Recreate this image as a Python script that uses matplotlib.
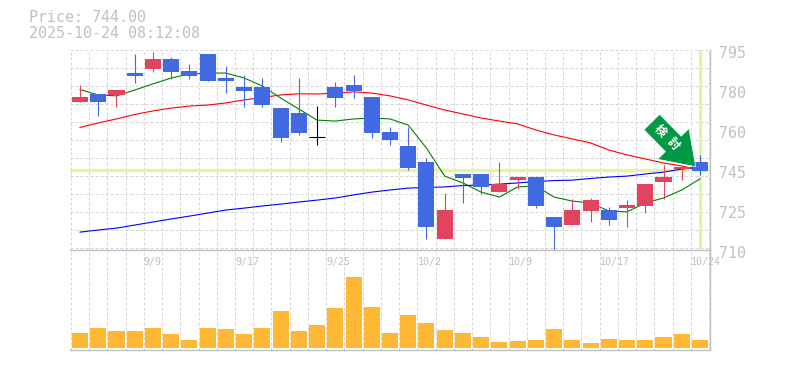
# Candlestick chart with moving averages and volume
import numpy as np
import matplotlib
matplotlib.use("Agg")
import matplotlib.pyplot as plt
from matplotlib.patches import FancyArrow
from matplotlib.transforms import IdentityTransform

# Price data
opens = [772.9, 776.3, 775.9, 785.2, 786.9, 791.2, 786.1, 793.3, 783.1, 779.3, 779.3, 770.3,
         768.2, 757.9, 779.3, 780.1, 775.0, 760.2, 754.2, 747.4, 714.7, 742.3, 742.3, 734.6,
         739.8, 741.0, 724.0, 720.6, 726.6, 727.0, 727.9, 728.7, 738.9, 744.4, 747.4]
closes = [775.0, 772.9, 778.0, 784.0, 791.2, 785.7, 784.0, 781.8, 781.8, 777.6, 771.6, 757.6,
          759.7, 757.9, 774.6, 777.6, 759.7, 756.8, 744.8, 719.8, 727.0, 740.6, 736.8, 738.0,
          741.0, 728.7, 719.8, 727.0, 731.3, 722.8, 729.1, 738.0, 741.0, 745.3, 743.6]
highs = [780.1, 776.3, 778.0, 793.3, 794.2, 792.0, 789.0, 793.3, 788.2, 784.4, 783.1, 770.3,
         783.1, 771.2, 781.4, 784.4, 775.0, 762.3, 762.3, 749.1, 734.2, 742.3, 742.3, 747.4,
         741.0, 741.0, 724.0, 731.7, 732.1, 728.3, 731.3, 738.0, 746.1, 745.3, 750.4]
lows = [772.9, 767.1, 770.8, 781.0, 785.7, 782.7, 782.7, 781.8, 776.7, 770.8, 770.8, 755.9,
        758.9, 754.6, 770.8, 774.6, 757.6, 754.6, 744.0, 714.7, 714.7, 730.0, 733.8, 734.6,
        735.9, 727.9, 710.0, 720.6, 721.9, 720.6, 719.8, 725.7, 731.7, 739.8, 741.9]

# Moving averages
ma_green = [778.2, 775.9, 775.5, 778.0, 780.6, 783.1, 784.8, 785.2, 785.2, 783.1, 779.7, 774.6,
            769.9, 765.2, 764.8, 765.7, 766.1, 765.7, 763.1, 753.3, 741.4, 738.5, 734.6, 732.5,
            736.8, 737.2, 732.5, 730.8, 730.0, 726.6, 726.2, 730.0, 732.1, 735.5, 740.2]
ma_red = [762.1, 764.0, 765.7, 767.6, 769.1, 770.3, 771.2, 771.6, 772.5, 773.8, 774.8, 775.9,
          776.4, 776.3, 776.7, 777.2, 776.7, 775.5, 773.8, 771.6, 769.5, 767.8, 766.1, 764.8,
          763.6, 761.0, 758.9, 757.2, 755.5, 752.5, 750.4, 748.7, 747.0, 745.7, 744.0]
ma_blue = [717.6, 718.5, 719.3, 720.6, 721.9, 723.2, 724.4, 725.7, 727.0, 727.8, 728.7, 729.5,
           730.4, 731.2, 732.1, 733.4, 734.6, 735.5, 736.3, 736.6, 736.8, 737.4, 737.6, 738.0,
           738.5, 739.1, 739.5, 739.7, 740.4, 741.0, 741.4, 742.3, 743.1, 744.4, 745.3]

# Volume
volumes = [15, 20, 17, 17, 20, 14, 8, 20, 19, 14, 20, 37, 17, 23, 40, 71, 41, 15,
           33, 25, 18, 15, 11, 6, 7, 8, 19, 8, 5, 9, 8, 8, 11, 14, 8]

# Labels
price_ticks = [795, 778, 761, 744, 727, 710]
price_labels = ["795", "780", "760", "745", "725", "710"]
date_pos = [3.5, 8.5, 13.5, 18.5, 23.5, 28.5, 33.5]
date_labels = ["9/9", "9/17", "9/25", "10/2", "10/9", "10/17", "10/24"]
last_price = 744.0

UP = "#e2445f"
DOWN = "#4169e1"
GREY = "#c0c0c0"
GRID = "#d6d6d6"
YELLOW = "#e2f5a4"
W, H = 785, 370

plt.rcParams["font.family"] = ["DejaVu Sans Mono", "Noto Sans CJK JP"]

fig = plt.figure(figsize=(W / 100, H / 100), dpi=100)
ax = fig.add_axes([70 / W, (H - 250) / H, 640 / W, 200 / H])
vol = fig.add_axes([70 / W, (H - 350) / H, 640 / W, 100 / H])
vol.patch.set_visible(False)

xs = np.arange(len(opens))
for a in (ax, vol):
    a.set_xlim(-0.55, 34.55)
    a.set_xticks(xs[:-1] + 0.5)
    a.set_xticks([-0.5, 34.5], minor=True)
    a.tick_params(which="both", length=0, labelbottom=False, labelleft=False)
    a.grid(True, axis="x", which="both", color=GRID, ls=(0, (3, 2)), lw=0.72)
    a.set_axisbelow(True)
    for side in ("top", "left"):
        a.spines[side].set_visible(False)
    for side in ("right", "bottom"):
        a.spines[side].set_color(GREY)
        a.spines[side].set_linewidth(1.0)

# Main panel
ax.set_ylim(710, 795)
ax.set_yticks(np.arange(795, 709, -7.65))
ax.grid(True, axis="y", color=GRID, ls=(0, (3, 2)), lw=0.72)

ax.axhline(last_price, color=YELLOW, lw=2.4, zorder=1.5)
ax.plot([34, 34], [711, 795], color=YELLOW, lw=2.4, zorder=1.5, solid_capstyle="butt")

# Averages sit under the candles
ax.plot(xs, ma_green, color="#008000", lw=0.8, zorder=2)
ax.plot(xs, ma_red, color="#ff0000", lw=0.8, zorder=2)
ax.plot(xs, ma_blue, color="#0000ff", lw=0.8, zorder=2)

for i in xs:
    o, c = opens[i], closes[i]
    col = "black" if o == c else (UP if c > o else DOWN)
    ax.plot([i, i], [lows[i], highs[i]], color=col, lw=0.8, zorder=3, solid_capstyle="butt")
    if o == c:
        ax.plot([i - 0.44, i + 0.44], [o, o], color=col, lw=0.8, zorder=3, solid_capstyle="butt")
    else:
        ax.bar(i, abs(c - o), bottom=min(o, c), width=0.88, color=col, lw=0, zorder=3)

# Price axis text
for t, s in zip(price_ticks, price_labels):
    ax.annotate(s, (1, t), xycoords=("axes fraction", "data"), xytext=(6.5, -2.2),
                textcoords="offset points", fontsize=10.8, color=GREY, va="center", ha="left",
                annotation_clip=False)

# Volume panel
vol.set_ylim(-2, 98)
vol.set_yticks([])
vol.bar(xs, volumes, width=0.88, color="#ffb833", lw=0, zorder=3)

for p, s in zip(date_pos, date_labels):
    vol.annotate(s, (p, 1), xycoords=("data", "axes fraction"), xytext=(0, -8.3),
                 textcoords="offset points", fontsize=7.2, color=GREY, va="center", ha="left",
                 annotation_clip=False)

# Header
fig.text(29 / W, 1 - 18 / H, "Price: 744.00", fontsize=10.8, color=GREY, va="center")
fig.text(29 / W, 1 - 33 / H, "2025-10-24 08:12:08", fontsize=10.8, color=GREY, va="center")

# Signal arrow, in pixels
arrow = FancyArrow(651.8, H - 122, 43.9, -44.7, width=22, head_width=44, head_length=32,
                   length_includes_head=True, transform=IdentityTransform(), facecolor="#009944",
                   edgecolor="white", lw=0.5, zorder=6, clip_on=False)
fig.add_artist(arrow)
for ch, px, py in (("検", 660, 131), ("討", 673, 144)):
    fig.text(px / W, 1 - py / H, ch, fontsize=8.5, color="white", rotation=-45, ha="center",
             va="center", rotation_mode="anchor", family="Noto Sans CJK JP", fontweight="bold",
             zorder=7)

fig.savefig("out.png", dpi=100)
